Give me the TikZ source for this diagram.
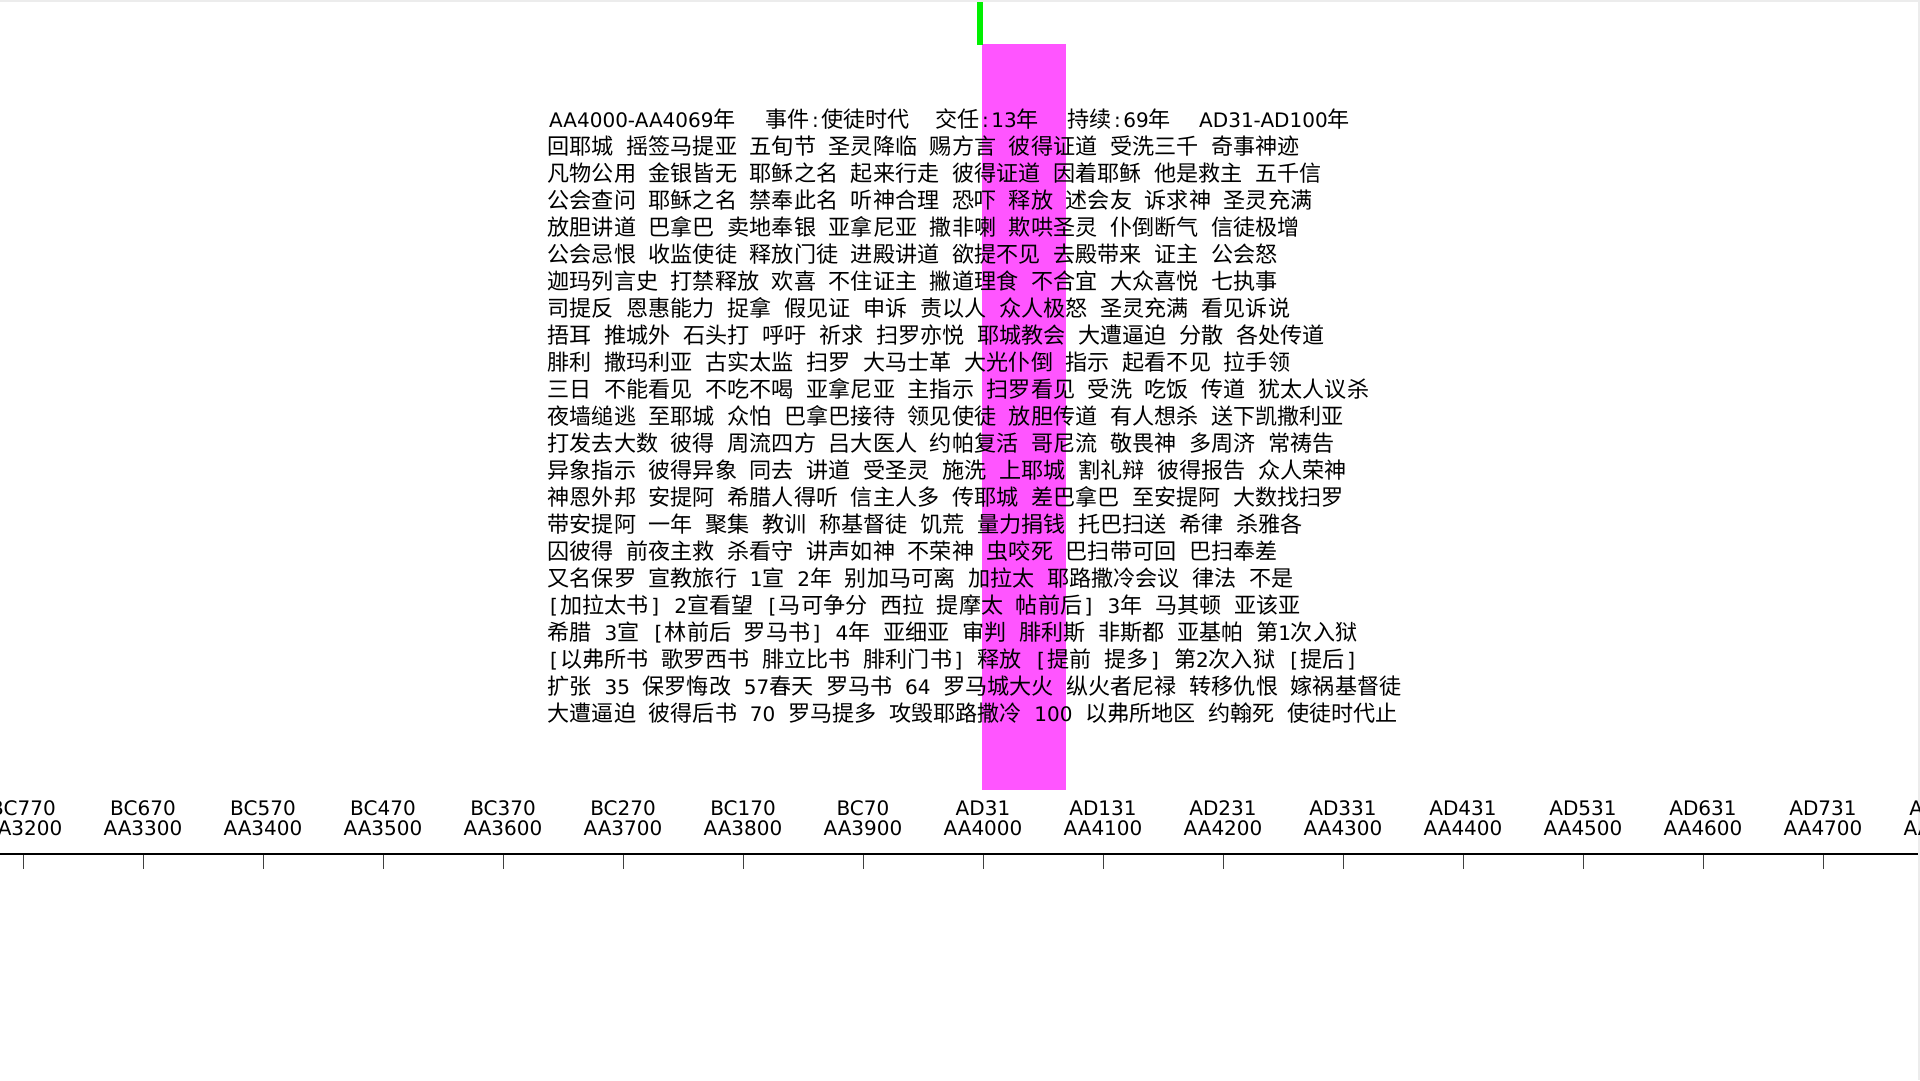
\documentclass[tikz,border=0pt]{standalone}
\usepackage{fontspec}
\newfontfamily\cjkfont{Noto Sans CJK SC}
\newfontfamily\latfont{DejaVu Sans}
\newcommand\dg[1]{{\latfont\fontsize{20}{20}\selectfont #1}}
\newcommand\opbr{\makebox[12.8pt]{\dg{[}}}
\newcommand\clbr{\makebox[12.8pt]{\dg{]}}}
\newcommand\hcolon{\makebox[12pt]{\dg{:}}}
\definecolor{eraPink}{RGB}{255,85,255}
\definecolor{markGreen}{RGB}{0,240,0}
\definecolor{frameGray}{RGB}{236,236,236}

\begin{document}
\begin{tikzpicture}[
        x=1pt, y=-1pt,
        textline/.style={anchor=base west, inner sep=0pt, font={\cjkfont\fontsize{22.1}{27}\selectfont\spaceskip 12.7pt\relax}},
        axislabel/.style={anchor=base, inner sep=0pt, font=\latfont\fontsize{20}{20}\selectfont},
        tickmark/.style={draw=black!75, line width=1pt},
        axisline/.style={draw=black, line width=1.5pt}
    ]
        \useasboundingbox (0,0) rectangle (1920,1080);
        \clip (0,0) rectangle (1920,1080);
        \fill[white] (0,0) rectangle (1920,1080);
        \fill[frameGray] (0,0) rectangle (1920,2);
        \fill[frameGray] (1918,0) rectangle (1920,1080);

        % Era band and marker
        \fill[eraPink] (982,44) rectangle (1066,790);
        \fill[markGreen] (977,2) rectangle (983,45);

        % Header
        \foreach \hx/\htxt [count=\j] in {549/{\dg{AA4000-AA4069}年}, 765/{事件\hcolon 使徒时代},
                935/{交任\hcolon\dg{13}年}, 1067/{持续\hcolon\dg{69}年}, 1199/{\dg{AD31-AD100}年}}
            \node[textline] (head\j) at (\hx,127) {\htxt};

        % Event lines
        \foreach \txt [count=\i] in {
            {回耶城 摇签马提亚 五旬节 圣灵降临 赐方言 彼得证道 受洗三千 奇事神迹},
            {凡物公用 金银皆无 耶稣之名 起来行走 彼得证道 因着耶稣 他是救主 五千信},
            {公会查问 耶稣之名 禁奉此名 听神合理 恐吓 释放 述会友 诉求神 圣灵充满},
            {放胆讲道 巴拿巴 卖地奉银 亚拿尼亚 撒非喇 欺哄圣灵 仆倒断气 信徒极增},
            {公会忌恨 收监使徒 释放门徒 进殿讲道 欲提不见 去殿带来 证主 公会怒},
            {迦玛列言史 打禁释放 欢喜 不住证主 撇道理食 不合宜 大众喜悦 七执事},
            {司提反 恩惠能力 捉拿 假见证 申诉 责以人 众人极怒 圣灵充满 看见诉说},
            {捂耳 推城外 石头打 呼吁 祈求 扫罗亦悦 耶城教会 大遭逼迫 分散 各处传道},
            {腓利 撒玛利亚 古实太监 扫罗 大马士革 大光仆倒 指示 起看不见 拉手领},
            {三日 不能看见 不吃不喝 亚拿尼亚 主指示 扫罗看见 受洗 吃饭 传道 犹太人议杀},
            {夜墙缒逃 至耶城 众怕 巴拿巴接待 领见使徒 放胆传道 有人想杀 送下凯撒利亚},
            {打发去大数 彼得 周流四方 吕大医人 约帕复活 哥尼流 敬畏神 多周济 常祷告},
            {异象指示 彼得异象 同去 讲道 受圣灵 施洗 上耶城 割礼辩 彼得报告 众人荣神},
            {神恩外邦 安提阿 希腊人得听 信主人多 传耶城 差巴拿巴 至安提阿 大数找扫罗},
            {带安提阿 一年 聚集 教训 称基督徒 饥荒 量力捐钱 托巴扫送 希律 杀雅各},
            {囚彼得 前夜主救 杀看守 讲声如神 不荣神 虫咬死 巴扫带可回 巴扫奉差},
            {又名保罗 宣教旅行 \dg{1}宣 \dg{2}年 别加马可离 加拉太 耶路撒冷会议 律法 不是},
            {\opbr 加拉太书\clbr{} \dg{2}宣看望 \opbr 马可争分 西拉 提摩太 帖前后\clbr{} \dg{3}年 马其顿 亚该亚},
            {希腊 \dg{3}宣 \opbr 林前后 罗马书\clbr{} \dg{4}年 亚细亚 审判 腓利斯 非斯都 亚基帕 第\dg{1}次入狱},
            {\opbr 以弗所书 歌罗西书 腓立比书 腓利门书\clbr{} 释放 \opbr 提前 提多\clbr{} 第\dg{2}次入狱 \opbr 提后\clbr},
            {扩张 \dg{35} 保罗悔改 \dg{57}春天 罗马书 \dg{64} 罗马城大火 纵火者尼禄 转移仇恨 嫁祸基督徒},
            {大遭逼迫 彼得后书 \dg{70} 罗马提多 攻毁耶路撒冷 \dg{100} 以弗所地区 约翰死 使徒时代止}}
            \node[textline] (line\i) at (547.5,127+27*\i) {\txt};

        % Time axis
        \draw[axisline] (0,854) -- (1918,854);
        \foreach \k [count=\n] in {-9,...,8}{
            \pgfmathtruncatemacro\tx{983+120*\k}
            \pgfmathtruncatemacro\aa{4000+100*\k}
            \ifnum\k<0
                \pgfmathtruncatemacro\yr{-100*\k-30}\def\era{BC}
            \else
                \pgfmathtruncatemacro\yr{100*\k+31}\def\era{AD}
            \fi
            \node[axislabel] (era\n) at (\tx,815) {\era\yr};
            \node[axislabel] (aa\n) at (\tx,835) {AA\aa};
            \draw[tickmark] (\tx,855) -- (\tx,869);
        }
    \end{tikzpicture}
\end{document}
